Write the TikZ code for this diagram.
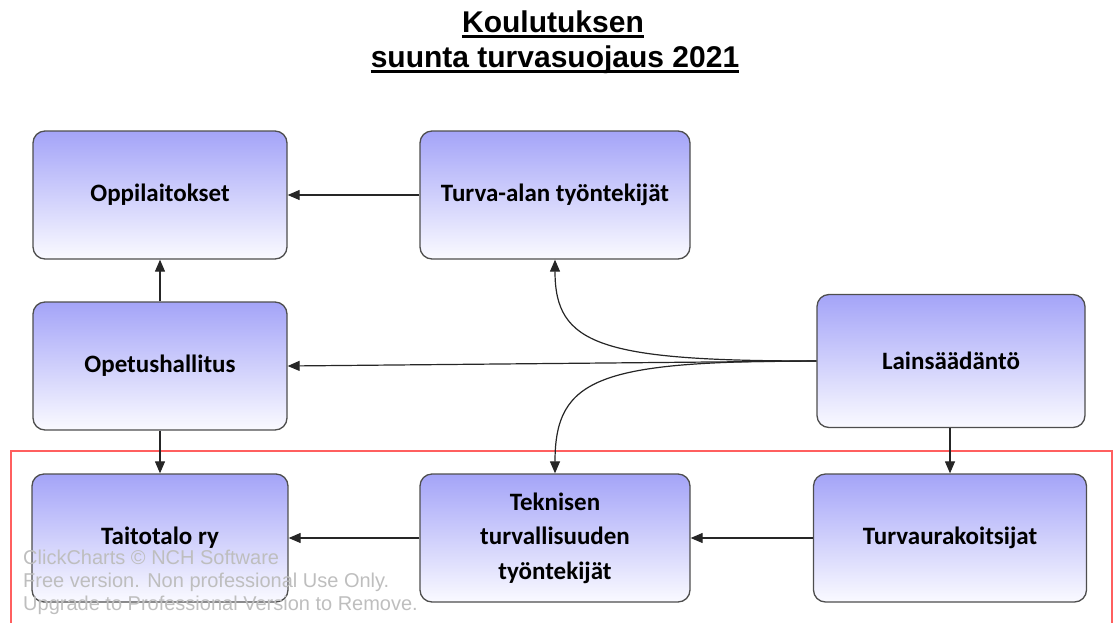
\documentclass[tikz,border=0pt]{standalone}
\usepackage{fontspec}
\setmainfont{Carlito}
\newfontfamily\arialfont{Liberation Sans}
\usetikzlibrary{arrows.meta}
\definecolor{boxtop}{RGB}{164,164,248}
\definecolor{boxbottom}{RGB}{250,250,255}
\definecolor{boxedge}{RGB}{78,78,78}
\definecolor{framered}{RGB}{255,95,95}
\definecolor{markgray}{RGB}{190,190,190}
\tikzset{
  flowbox/.style={draw=boxedge, line width=1.3pt, rounded corners=12pt,
    top color=boxtop, bottom color=boxbottom, align=center,
    minimum height=128pt, inner sep=0pt,
    font=\fontsize{25}{34.5}\selectfont\bfseries},
  link/.style={draw=black!85, line width=1.2pt,
    -{Triangle[length=12pt,width=10pt]}},
  titleline/.style={anchor=base, inner sep=0pt,
    font=\arialfont\bfseries\fontsize{30}{35}\selectfont},
  underbar/.style={line width=2.6pt},
}
\begin{document}
\begin{tikzpicture}[x=1pt,y=-1pt]
\useasboundingbox (0,0) rectangle (1114,622);
\clip (0,0) rectangle (1114,622);

% title, two underlined lines
\node[titleline] (t1) at (553,32) {Koulutuksen\ };
\node[titleline] (t2) at (555,67) {suunta turvasuojaus 2021};
\draw[underbar] ([yshift=-4.5pt]t1.base west) -- ([yshift=-4.5pt]t1.base east);
\draw[underbar] ([yshift=-4.5pt]t2.base west) -- ([yshift=-4.5pt]t2.base east);

% frame around the bottom row
\draw[framered, line width=1.2pt] (11,451) rectangle (1112,660);

% boxes
\node[flowbox, minimum width=254pt] (opp)   at (160,195) {Oppilaitokset};
\node[flowbox, minimum width=270pt] (turva) at (555,195) {Turva-alan työntekijät};
\node[flowbox, minimum width=254pt] (opet)  at (160,366) {Opetushallitus};
\node[flowbox, minimum width=268pt, minimum height=133pt] (lain) at (951,361) {Lainsäädäntö};
\node[flowbox, minimum width=256pt] (taito) at (160,538) {Taitotalo ry};
\node[flowbox, minimum width=270pt] (tekn)  at (555,538) {Teknisen\\turvallisuuden\\työntekijät};
\node[flowbox, minimum width=273pt] (urak)  at (950,538) {Turvaurakoitsijat};

% connectors
\draw[link] (turva.west) -- (opp.east);
\draw[link] (opet.north) -- (opp.south);
\draw[link] (opet.south) -- (taito.north);
\draw[link] (lain.west) -- (opet.east);
\draw[link] (lain.west) .. controls (600,361) and (555,345) .. (turva.south);
\draw[link] (lain.west) .. controls (600,361) and (555,377) .. (tekn.north);
\draw[link] (urak.north |- lain.south) -- (urak.north);
\draw[link] (tekn.west) -- (taito.east);
\draw[link] (urak.west) -- (tekn.east);

% software watermark
\node[anchor=north west, inner sep=0pt, align=left, text=markgray,
  font=\arialfont\fontsize{20}{23}\selectfont] (mark) at (23,550)
  {ClickCharts © NCH Software\\Free version. Non professional Use Only.\\Upgrade to Professional Version to Remove.};
\end{tikzpicture}
\end{document}
